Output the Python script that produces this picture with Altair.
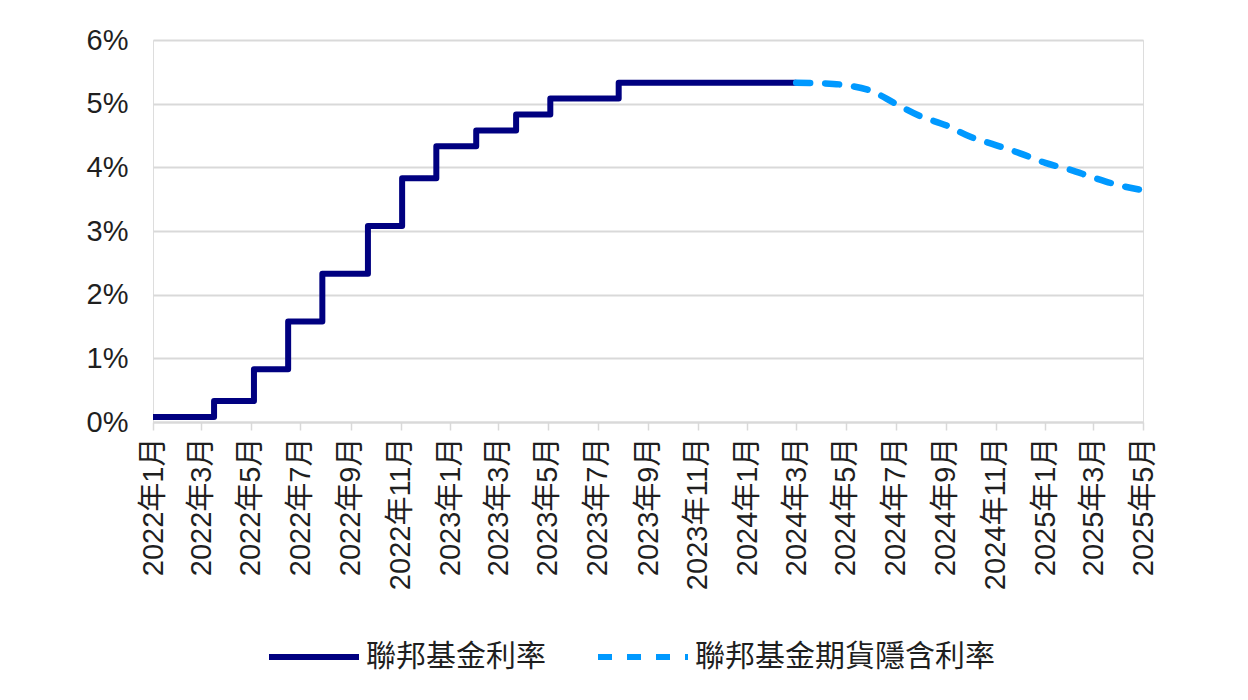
import altair as alt
import pandas as pd

# ---- data ----
ffr_dates = ["2022/01/01", "2022/03/17", "2022/05/05", "2022/06/16", "2022/07/28",
             "2022/09/22", "2022/11/03", "2022/12/15", "2023/02/02", "2023/03/23",
             "2023/05/04", "2023/07/27", "2024/03/01"]
ffr_values = [0.08, 0.33, 0.83, 1.58, 2.33, 3.08, 3.83, 4.33, 4.58, 4.83, 5.08, 5.33, 5.33]

fut_dates = ["2024/03/01", "2024/04/01", "2024/05/01", "2024/06/01", "2024/07/01",
             "2024/08/01", "2024/09/01", "2024/10/01", "2024/11/01", "2024/12/01",
             "2025/01/01", "2025/02/01", "2025/03/01", "2025/04/01", "2025/05/01"]
fut_values = [5.33, 5.32, 5.29, 5.20, 5.00, 4.80, 4.66, 4.48, 4.35, 4.22,
              4.07, 3.96, 3.84, 3.72, 3.64]

series_names = ["聯邦基金利率", "聯邦基金期貨隱含利率"]
series_colors = ["#000080", "#0099FF"]
y_ticks = [0, 1, 2, 3, 4, 5, 6]
x_tick_months = [(2022, m) for m in (1, 3, 5, 7, 9, 11)] + \
                [(2023, m) for m in (1, 3, 5, 7, 9, 11)] + \
                [(2024, m) for m in (1, 3, 5, 7, 9, 11)] + \
                [(2025, m) for m in (1, 3, 5)]

df_ffr = pd.DataFrame({"date": ffr_dates, "rate": ffr_values, "series": series_names[0]})
df_fut = pd.DataFrame({"date": fut_dates, "rate": fut_values, "series": series_names[1]})

LATIN = "Liberation Sans, Noto Sans CJK TC"
CJK = "Noto Sans CJK TC"
TEXT = "#1f1f1f"
GRID = "#d9d9d9"

x_values = [alt.DateTime(year=y, month=m, date=1) for y, m in x_tick_months]

x_enc = alt.X(
    "date:T",
    scale=alt.Scale(domain=[alt.DateTime(year=2022, month=1, date=1),
                            alt.DateTime(year=2025, month=5, date=1)]),
    axis=alt.Axis(values=x_values, format="%Y年%-m月", labelAngle=-90,
                  labelFontSize=29, labelFont=LATIN, labelColor=TEXT,
                  labelPadding=7, labelOverlap=False, labelFlush=False,
                  domainColor=GRID, domainWidth=2, tickColor=GRID, tickWidth=1.5,
                  tickSize=8, grid=False, title=None),
)
y_enc = alt.Y(
    "rate:Q",
    scale=alt.Scale(domain=[0, 6], nice=False),
    axis=alt.Axis(values=y_ticks, labelExpr="datum.value + '%'", labelFontSize=29,
                  labelFont=LATIN, labelColor=TEXT, labelPadding=25, ticks=False,
                  domain=False, grid=True, gridColor=GRID, gridWidth=2, title=None),
)
legend = alt.Legend(title=None, orient="none", direction="horizontal",
                    legendX=113, legendY=569, symbolType="stroke",
                    symbolSize=8100, symbolStrokeWidth=6, labelFontSize=30,
                    labelFont=CJK, labelColor=TEXT, labelOffset=4,
                    columnPadding=40, labelLimit=600)
color_enc = alt.Color(
    "series:N",
    scale=alt.Scale(domain=series_names, range=series_colors),
    legend=legend,
)
dash_enc = alt.StrokeDash(
    "series:N",
    scale=alt.Scale(domain=series_names, range=[[1, 0], [14, 15]]),
    legend=legend,
)

ffr = alt.Chart(df_ffr).mark_line(
    interpolate="step-after", strokeWidth=6, strokeJoin="round"
).encode(x=x_enc, y=y_enc, color=color_enc, strokeDash=dash_enc)

fut = alt.Chart(df_fut).mark_line(
    interpolate="monotone", strokeWidth=6.5, strokeCap="round", strokeJoin="round"
).encode(x=x_enc, y=y_enc, color=color_enc, strokeDash=dash_enc)

chart = alt.layer(ffr, fut).properties(
    width=990, height=382,
    autosize=alt.AutoSizeParams(type="none"),
    padding={"left": 145, "top": 32, "right": 97, "bottom": 270},
).configure_view(stroke=None).configure(background="white")

chart.save("out.html", embed_options={"renderer": "svg", "actions": False})
